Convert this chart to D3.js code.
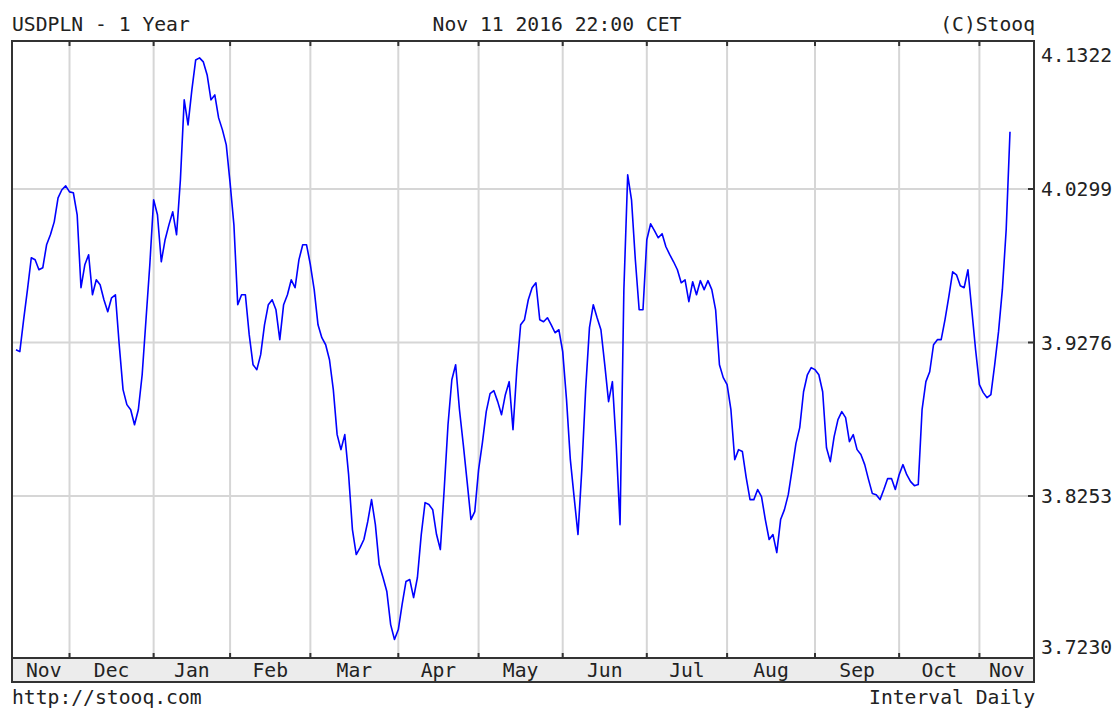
<!DOCTYPE html>
<html>
<head>
<meta charset="utf-8">
<script src="https://cdn.jsdelivr.net/npm/d3@7"></script>
<style>
  body{margin:0;background:#fff;}
  text{font-family:"DejaVu Sans Mono",monospace;font-size:19.7px;fill:#222;}
</style>
</head>
<body>
<div id="chart"></div>
<script>

//texts round the chart
var title = "USDPLN - 1 Year",
    stamp = "Nov 11 2016 22:00 CET",
    credit = "(C)Stooq",
    footLeft = "http://stooq.com",
    footRight = "Interval Daily";

var monthNames = ["Jan","Feb","Mar","Apr","May","Jun","Jul","Aug","Sep","Oct","Nov","Dec"];

//labels on the right side
var yTicks = [3.7230, 3.8253, 3.9276, 4.0299, 4.1322];

//first and last session (weekdays only, no quotes on these two)
var firstDay = new Date(2015, 10, 11),
    lastDay = new Date(2016, 10, 11),
    holidays = ["2015-12-25", "2016-01-01"];

//daily close
var values = [
  3.9228, 3.9215, 3.9428, 3.9628, 3.9841, 3.9827, 3.9761, 3.9774, 3.9927, 3.9994,
  4.0080, 4.0240, 4.0294, 4.0320, 4.0280, 4.0274, 4.0127, 3.9641, 3.9794, 3.9861,
  3.9594, 3.9694, 3.9661, 3.9561, 3.9481, 3.9574, 3.9594, 3.9261, 3.8962,
  3.8862, 3.8828, 3.8728, 3.8828, 3.9061, 3.9428, 3.9794, 4.0227, 4.0127,
  3.9814, 3.9961, 4.0060, 4.0147, 3.9994, 4.0360, 4.0893, 4.0726, 4.0960, 4.1159,
  4.1173, 4.1146, 4.1059, 4.0893, 4.0926, 4.0773, 4.0693, 4.0593, 4.0340, 4.0060,
  3.9528, 3.9594, 3.9594, 3.9328, 3.9128, 3.9095, 3.9195, 3.9394, 3.9528, 3.9561,
  3.9494, 3.9295, 3.9528, 3.9594, 3.9694, 3.9641, 3.9827, 3.9927, 3.9927, 3.9794,
  3.9628, 3.9394, 3.9308, 3.9261, 3.9161, 3.8962, 3.8662, 3.8562, 3.8662, 3.8395,
  3.8029, 3.7863, 3.7909, 3.7963, 3.8082, 3.8229, 3.8062, 3.7796, 3.7710, 3.7616,
  3.7396, 3.7297, 3.7363, 3.7530, 3.7683, 3.7696, 3.7576, 3.7710, 3.7996, 3.8209,
  3.8196, 3.8162, 3.7996, 3.7896, 3.8296, 3.8728, 3.9028, 3.9128, 3.8828, 3.8595,
  3.8349, 3.8096, 3.8149, 3.8429, 3.8609, 3.8815, 3.8935, 3.8955, 3.8882, 3.8795,
  3.8928, 3.9015, 3.8695, 3.9095, 3.9394, 3.9428, 3.9561, 3.9641, 3.9674, 3.9428,
  3.9414, 3.9441, 3.9394, 3.9341, 3.9361, 3.9215, 3.8895, 3.8495, 3.8242, 3.7996,
  3.8429, 3.8962, 3.9375, 3.9528, 3.9441, 3.9361, 3.9128, 3.8882, 3.9015, 3.8595,
  3.8062, 3.9628, 4.0393, 4.0227, 3.9827, 3.9494, 3.9494, 3.9961, 4.0067, 4.0021,
  3.9974, 4.0001, 3.9914, 3.9861, 3.9814, 3.9761, 3.9674, 3.9694, 3.9548, 3.9681,
  3.9594, 3.9688, 3.9628, 3.9688, 3.9628, 3.9494, 3.9128, 3.9042, 3.8995, 3.8828,
  3.8495, 3.8562, 3.8549, 3.8376, 3.8229, 3.8229, 3.8296, 3.8249, 3.8096, 3.7963,
  3.7996, 3.7876, 3.8096, 3.8162, 3.8262, 3.8429, 3.8602, 3.8709, 3.8948, 3.9061,
  3.9108, 3.9095, 3.9061, 3.8948, 3.8575, 3.8482, 3.8649, 3.8762, 3.8815, 3.8775,
  3.8615, 3.8662, 3.8562, 3.8529, 3.8462, 3.8362, 3.8269, 3.8262, 3.8229, 3.8296,
  3.8369, 3.8369, 3.8296, 3.8395, 3.8462, 3.8395, 3.8349, 3.8322, 3.8329, 3.8828,
  3.9015, 3.9081, 3.9261, 3.9295, 3.9295, 3.9428, 3.9581, 3.9747, 3.9727, 3.9654,
  3.9641, 3.9761, 3.9494, 3.9228, 3.8995, 3.8942, 3.8908, 3.8928, 3.9128, 3.9348,
  3.9628, 4.0027, 4.0680
];

var w = 1119,
    h = 711,
    pLeft = 12,
    pRight = 1034,
    pTop = 41,
    pBottom = 658,
    pBand = 682;

//trading days = weekdays minus holidays
var fmt = d3.timeFormat("%Y-%m-%d");
var days = d3.timeDay.range(firstDay, d3.timeDay.offset(lastDay, 1))
  .filter(function(d){
    return d.getDay() != 0 && d.getDay() != 6 && holidays.indexOf(fmt(d)) < 0;
  });

var data = values.map(function(v, i){ return {date: days[i], value: v, i: i}; });

var svg = d3.select("#chart").append("svg")
  .attr("width", w)
  .attr("height", h);

var xScale = d3.scaleLinear().domain([0, data.length - 1]).range([16, 1010]),
    yScale = d3.scaleLinear().domain([yTicks[0], yTicks[yTicks.length-1]]).range([649.5, 35.5]);

//index where each new month starts
var monthStarts = [];
for(var i = 1; i < data.length; i++){
  if(data[i].date.getMonth() != data[i-1].date.getMonth()){
    monthStarts.push(i);
  }
}

//grid
svg.selectAll(".vgrid")
  .data(monthStarts)
  .enter().append("line")
  .attr("class", "vgrid")
  .attr("x1", function(d){ return xScale(d); })
  .attr("x2", function(d){ return xScale(d); })
  .attr("y1", pTop)
  .attr("y2", pBottom)
  .attr("stroke", "#d6d6d6")
  .attr("stroke-width", 2);

var inner = yTicks.slice(1, yTicks.length - 1);

svg.selectAll(".hgrid")
  .data(inner)
  .enter().append("line")
  .attr("class", "hgrid")
  .attr("x1", pLeft)
  .attr("x2", pRight)
  .attr("y1", function(d){ return yScale(d); })
  .attr("y2", function(d){ return yScale(d); })
  .attr("stroke", "#d6d6d6")
  .attr("stroke-width", 2);

//price line
var line = d3.line()
  .x(function(d){ return xScale(d.i); })
  .y(function(d){ return yScale(d.value); });

svg.append("path")
  .datum(data)
  .attr("fill", "none")
  .attr("stroke", "#0000ff")
  .attr("stroke-width", 1.6)
  .attr("stroke-linejoin", "round")
  .attr("d", line);

//month band
svg.append("rect")
  .attr("x", pLeft)
  .attr("y", pBottom)
  .attr("width", pRight - pLeft)
  .attr("height", pBand - pBottom)
  .attr("fill", "#ececec");

//frame
svg.append("rect")
  .attr("x", pLeft)
  .attr("y", pTop)
  .attr("width", pRight - pLeft)
  .attr("height", pBand - pTop)
  .attr("fill", "none")
  .attr("stroke", "#333")
  .attr("stroke-width", 2);

svg.append("line")
  .attr("x1", pLeft).attr("x2", pRight)
  .attr("y1", pBottom).attr("y2", pBottom)
  .attr("stroke", "#333")
  .attr("stroke-width", 2);

//small tick marks
monthStarts.forEach(function(m){
  var xm = xScale(m);
  svg.append("line").attr("x1", xm).attr("x2", xm).attr("y1", pTop).attr("y2", pTop + 5)
    .attr("stroke", "#333").attr("stroke-width", 2);
  svg.append("line").attr("x1", xm).attr("x2", xm).attr("y1", pBottom - 5).attr("y2", pBottom)
    .attr("stroke", "#333").attr("stroke-width", 2);
});

inner.forEach(function(t){
  svg.append("line").attr("x1", pRight - 6).attr("x2", pRight)
    .attr("y1", yScale(t)).attr("y2", yScale(t))
    .attr("stroke", "#333").attr("stroke-width", 2);
});

//month labels, centred in each month slot
var edges = [16].concat(monthStarts.map(function(m){ return xScale(m); })).concat([pRight]);
var firsts = [0].concat(monthStarts);

svg.selectAll(".month")
  .data(firsts)
  .enter().append("text")
  .attr("class", "month")
  .attr("x", function(d, k){ return (edges[k] + edges[k+1]) / 2 + (k == 0 ? 1 : 0); })
  .attr("y", 677)
  .attr("text-anchor", "middle")
  .text(function(d){ return monthNames[data[d].date.getMonth()]; });

//value labels on the right, the outer two kept inside the frame
svg.selectAll(".ylab")
  .data(yTicks)
  .enter().append("text")
  .attr("class", "ylab")
  .attr("x", 1041)
  .attr("y", function(d){
    var yy = Math.min(Math.max(yScale(d), 55), 647);
    return yy + 7;
  })
  .text(function(d){ return d.toFixed(4); });

//header and footer
svg.append("text").attr("x", pLeft).attr("y", 31).text(title);
svg.append("text").attr("x", 557).attr("y", 31).attr("text-anchor", "middle").text(stamp);
svg.append("text").attr("x", pRight + 1).attr("y", 31).attr("text-anchor", "end").text(credit);
svg.append("text").attr("x", pLeft).attr("y", 704).text(footLeft);
svg.append("text").attr("x", pRight + 1).attr("y", 704).attr("text-anchor", "end").text(footRight);

</script>
</body>
</html>
